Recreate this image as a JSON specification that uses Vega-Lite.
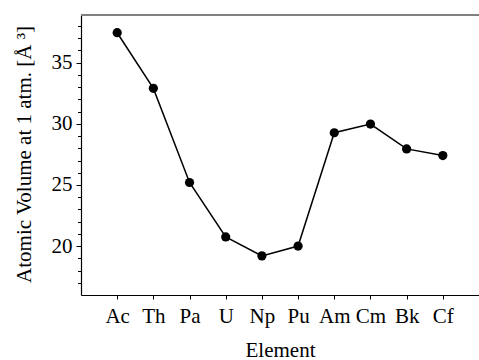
{
  "$schema": "https://vega.github.io/schema/vega-lite/v6.json",
  "autosize": "none",
  "padding": {"left": 81, "top": 15, "right": 0, "bottom": 65},
  "width": 398,
  "height": 280,
  "background": "white",
  "config": {
    "view": {"stroke": null},
    "font": "Liberation Serif"
  },
  "data": {
    "values": [
      {"element": "Ac", "volume": 37.45},
      {"element": "Th", "volume": 32.9},
      {"element": "Pa", "volume": 25.2},
      {"element": "U", "volume": 20.75},
      {"element": "Np", "volume": 19.2},
      {"element": "Pu", "volume": 20.0},
      {"element": "Am", "volume": 29.27},
      {"element": "Cm", "volume": 29.98},
      {"element": "Bk", "volume": 27.95},
      {"element": "Cf", "volume": 27.4}
    ]
  },
  "encoding": {
    "x": {
      "field": "element",
      "type": "ordinal",
      "sort": null,
      "scale": {"type": "point", "padding": 1},
      "axis": {
        "title": "Element",
        "titleFont": "Liberation Serif",
        "titleFontSize": 21,
        "titleFontWeight": "normal",
        "titleColor": "black",
        "titleY": 61,
        "titleBaseline": "alphabetic",
        "labelFont": "Liberation Serif",
        "labelFontSize": 21,
        "labelColor": "black",
        "labelAngle": 0,
        "labelPadding": 6,
        "tickSize": 4,
        "tickColor": "black",
        "domainColor": "black",
        "domainWidth": 1.2,
        "grid": false
      }
    },
    "y": {
      "field": "volume",
      "type": "quantitative",
      "scale": {"domain": [16, 38.9], "nice": false, "zero": false},
      "axis": {
        "title": "Atomic Volume at 1 atm. [Å ³]",
        "titleFont": "Liberation Serif",
        "titleFontSize": 21,
        "titleFontWeight": "normal",
        "titleColor": "black",
        "titleX": -51,
        "titleY": 139,
        "titleAngle": -90,
        "titleAlign": "center",
        "titleBaseline": "alphabetic",
        "values": [17, 18, 19, 20, 21, 22, 23, 24, 25, 26, 27, 28, 29, 30, 31, 32, 33, 34, 35, 36, 37, 38],
        "labelExpr": "datum.value % 5 === 0 ? datum.label : ''",
        "labelFont": "Liberation Serif",
        "labelFontSize": 21,
        "labelColor": "black",
        "labelPadding": 4,
        "tickSize": {"condition": {"test": "datum.value % 5 === 0", "value": 5}, "value": 3.5},
        "tickColor": "black",
        "domainColor": "black",
        "domainWidth": 1.2,
        "grid": false
      }
    }
  },
  "layer": [
    {
      "mark": {"type": "rule", "color": "#808080", "strokeWidth": 1.5},
      "encoding": {"y": {"datum": 38.9}, "x": null}
    },
    {
      "mark": {"type": "line", "color": "black", "strokeWidth": 1.5}
    },
    {
      "mark": {"type": "point", "filled": true, "color": "black", "size": 85, "opacity": 1}
    }
  ]
}
